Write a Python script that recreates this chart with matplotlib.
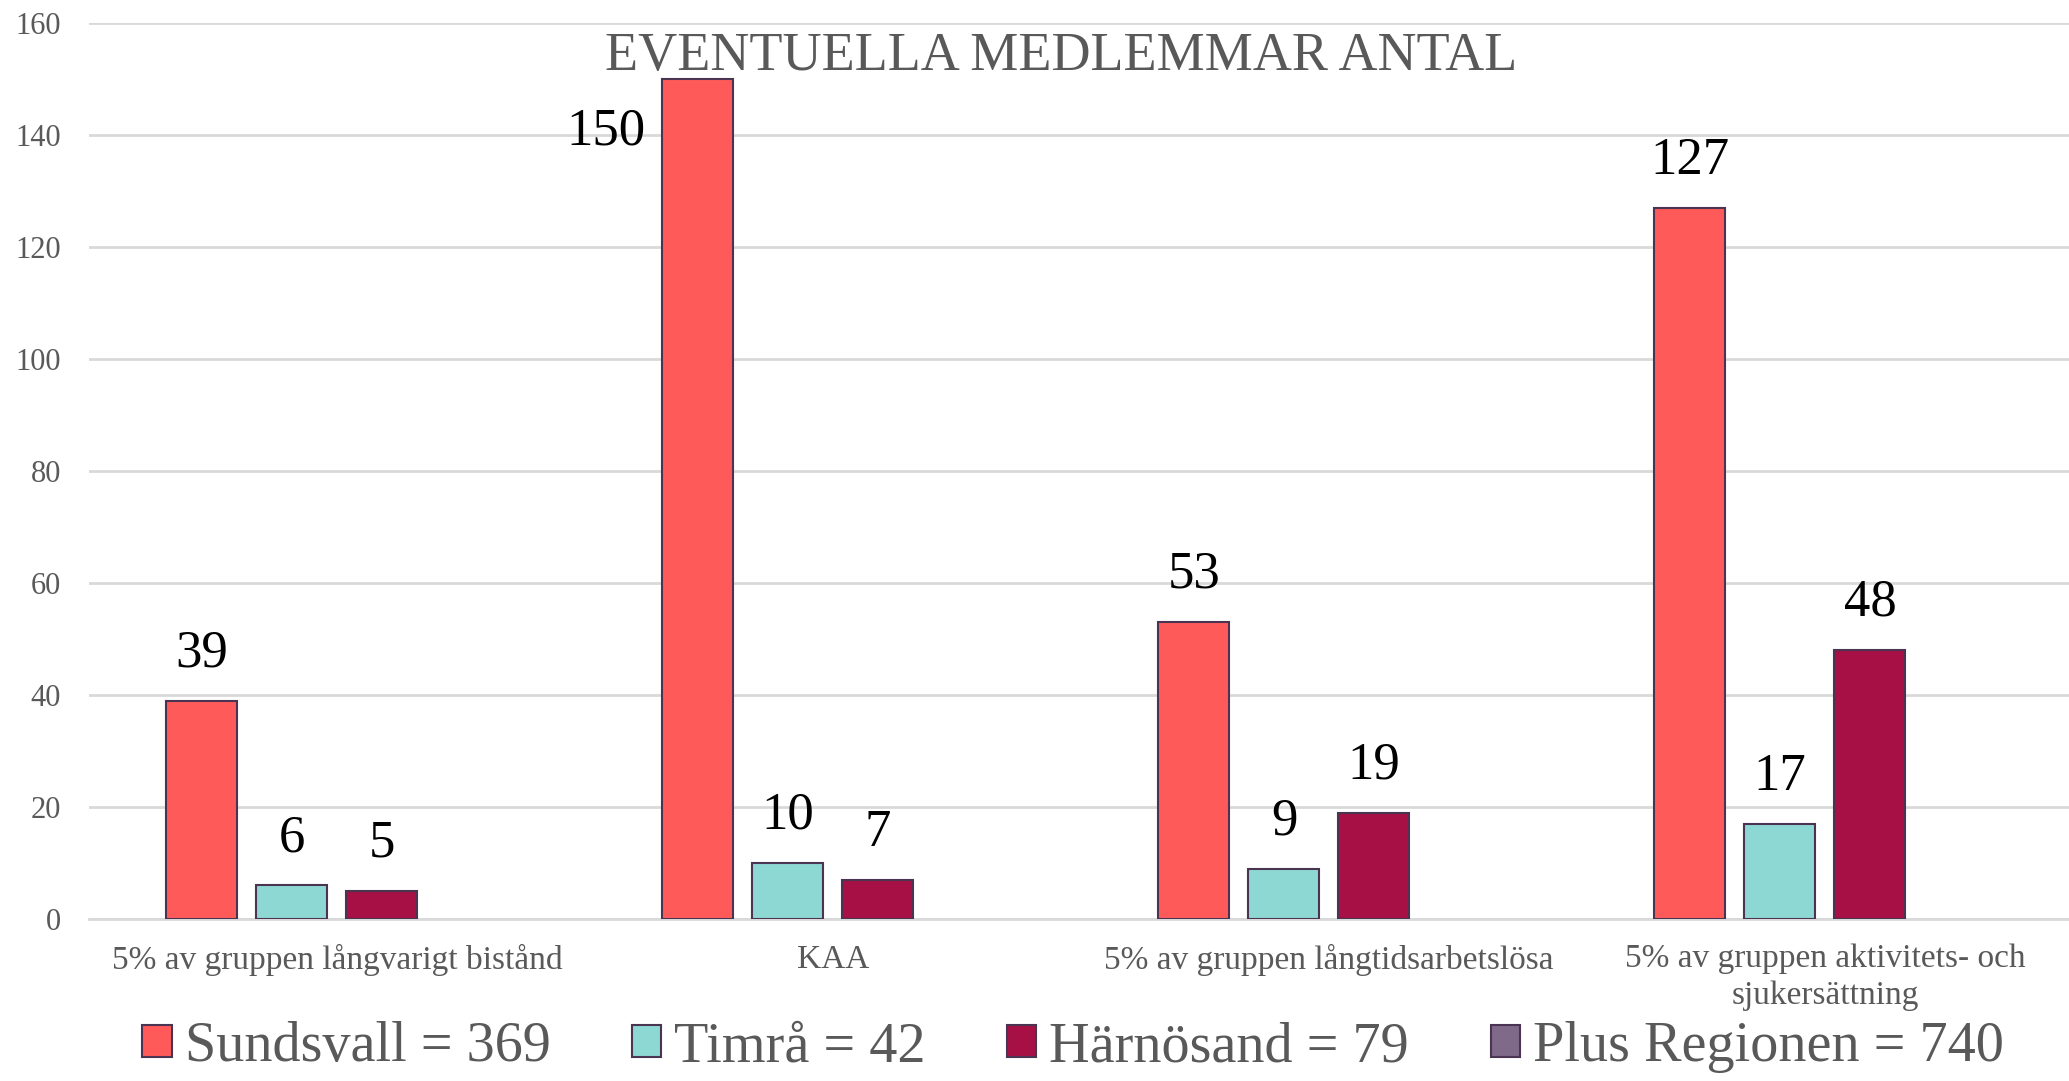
import matplotlib
matplotlib.use("Agg")
import matplotlib.pyplot as plt
import numpy as np

categories = ["5% av gruppen långvarigt bistånd", "KAA",
              "5% av gruppen långtidsarbetslösa",
              "5% av gruppen aktivitets- och\nsjukersättning"]
series_names = ["Sundsvall = 369", "Timrå = 42", "Härnösand = 79", "Plus Regionen = 740"]
sundsvall = [39, 150, 53, 127]
timra = [6, 10, 9, 17]
harnosand = [5, 7, 19, 48]
plus_regionen = [np.nan, np.nan, np.nan, np.nan]
y_ticks = [0, 20, 40, 60, 80, 100, 120, 140, 160]
title = "EVENTUELLA MEDLEMMAR ANTAL"

colors = ["#FF5A5A", "#8ED8D3", "#A61044", "#7F6A8A"]
edge = "#4B3352"
W, H = 2069, 1081
plt.rcParams['font.family'] = ['Liberation Serif', 'DejaVu Serif']

fig = plt.figure(figsize=(W / 100, H / 100), dpi=100)
ax = fig.add_axes([89 / W, 1 - 919 / H, 1984 / W, (919 - 23) / H])

series = [sundsvall, timra, harnosand, plus_regionen]
x = np.arange(len(categories))
step = 90 / 496
bw = 71 / 496
for k, (vals, name, c) in enumerate(zip(series, series_names, colors)):
    pos = x + (k - 1.5) * step
    vals_arr = np.array(vals, dtype=float)
    bars = ax.bar(pos, vals_arr, width=bw, color=c, edgecolor=edge, linewidth=1.5,
                  label=name, zorder=3)
    for b, v in zip(bars, vals_arr):
        if np.isnan(v):
            continue
        if v > 140:
            ax.annotate(f"{int(v)}", xy=(b.get_x(), v), xytext=(-12, -38),
                        textcoords="offset points", ha="right", va="center",
                        fontsize=38, color="black")
        else:
            ax.annotate(f"{int(v)}", xy=(b.get_x() + b.get_width() / 2, v),
                        xytext=(0, 34), textcoords="offset points",
                        ha="center", va="center", fontsize=38, color="black")

ax.set_xlim(-0.5, 3.5)
ax.set_ylim(0, 160)
ax.set_yticks(y_ticks)
ax.set_yticklabels([str(t) for t in y_ticks], fontsize=22, color="#595959")
ax.set_xticks(x)
ax.set_xticklabels(categories, fontsize=24, color="#595959", linespacing=1.25)
ax.tick_params(axis="both", length=0)
ax.tick_params(axis="y", pad=20)
ax.tick_params(axis="x", pad=18)
ax.grid(axis="y", color="#D9D9D9", linewidth=2, zorder=0)
for s in ["top", "right", "left"]:
    ax.spines[s].set_visible(False)
ax.spines["bottom"].set_color("#D9D9D9")
ax.spines["bottom"].set_linewidth(2)
ax.set_axisbelow(True)

fig.text(1061 / W, 1 - 57 / H, title, ha="center", va="center",
         fontsize=39, color="#595959")

leg = fig.legend(loc="center", bbox_to_anchor=(1073 / W, 1 - 1047 / H), ncol=4,
                 frameon=False, fontsize=40.5, handlelength=0.52, handleheight=0.52,
                 handletextpad=0.23, columnspacing=1.45, borderpad=0)
for t in leg.get_texts():
    t.set_color("#595959")

fig.savefig("out.png", dpi=100)
